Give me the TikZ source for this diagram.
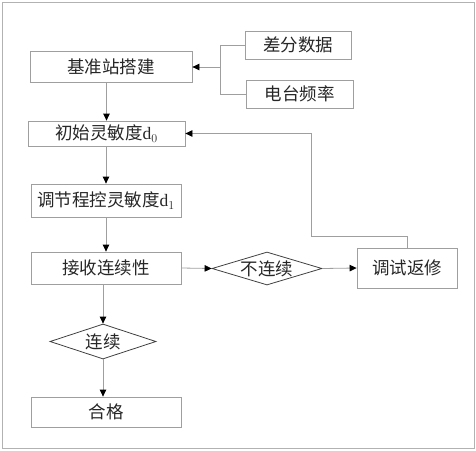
\documentclass[tikz,border=0pt]{standalone}
\usepackage{fontspec}
\setmainfont{Liberation Serif}
\newfontfamily\cjk{Noto Sans CJK SC}
\usetikzlibrary{arrows.meta,shapes.geometric}

\begin{document}
\begin{tikzpicture}[x=1pt, y=-1pt, >={Triangle[black, length=7pt, width=6.5pt]}, font=\fontsize{17.5}{19}\selectfont\cjk]

\tikzstyle{box} = [draw=gray!75, line width=0.8pt, minimum width=150pt, minimum height=30pt, inner sep=1pt, text=black!85]
\tikzstyle{judge} = [draw=black!75, line width=0.8pt, diamond, aspect=3.2, inner sep=0pt, text=black!85]
\tikzstyle{line} = [draw=gray!75, line width=0.8pt]

\useasboundingbox (0, 0) rectangle (476, 450);
\draw[gray!60, line width=0.8pt] (2, 2) rectangle (474, 448);

% --- 基准站
\node[box, minimum width=162pt, minimum height=31pt] (jz) at (111, 67) {基准站搭建};
\node[box, minimum width=106pt, minimum height=28pt] (cf) at (298, 45) {差分数据};
\node[box, minimum width=107pt, minimum height=28pt] (dt) at (299.5, 94) {电台频率};
\coordinate (br) at (220, 67);

% --- 灵敏度
\node[box, minimum width=157pt, minimum height=25pt] (d0) at (106.5, 133.5) {初始灵敏度{\rmfamily d$_0$}};
\node[box, minimum height=33pt] (d1) at (106, 200.5) {调节程控灵敏度{\rmfamily d$_1$}};

% --- 判断
\node[box, minimum height=32pt] (js) at (106, 268) {接收连续性};
\node[judge, minimum width=110pt, minimum height=33pt] (blx) at (267, 268.5) {不连续};
\node[box, minimum width=100pt, minimum height=40pt] (ts) at (407, 268) {调试返修};
\node[judge, minimum width=106pt, minimum height=35pt] (lx) at (103, 341.5) {连续};
\node[box, minimum height=30pt] (hg) at (106, 412) {合格};

\coordinate (fb) at (311, 236);

% 输入汇合
\draw[line] (cf.west) -| (br |- dt.west) -- (dt.west);
\draw[line, ->] (br) -- (jz.east);

% 主流程
\draw[line, ->] (d0.north |- jz.south) -- (d0.north);
\draw[line, ->] (d0.south -| d1.north) -- (d1.north);
\draw[line, ->] (d1.south) -- (js.north);
\draw[line, ->] (js.east) -- (blx.west);
\draw[line, ->] (blx.east) -- (ts.west);
\draw[line, ->] (js.south -| lx.north) -- (lx.north);
\draw[line, ->] (lx.south) -- (lx.south |- hg.north);

% 返修回路
\draw[line, ->] (ts.north) |- (fb) |- (d0.east);

\end{tikzpicture}
\end{document}
